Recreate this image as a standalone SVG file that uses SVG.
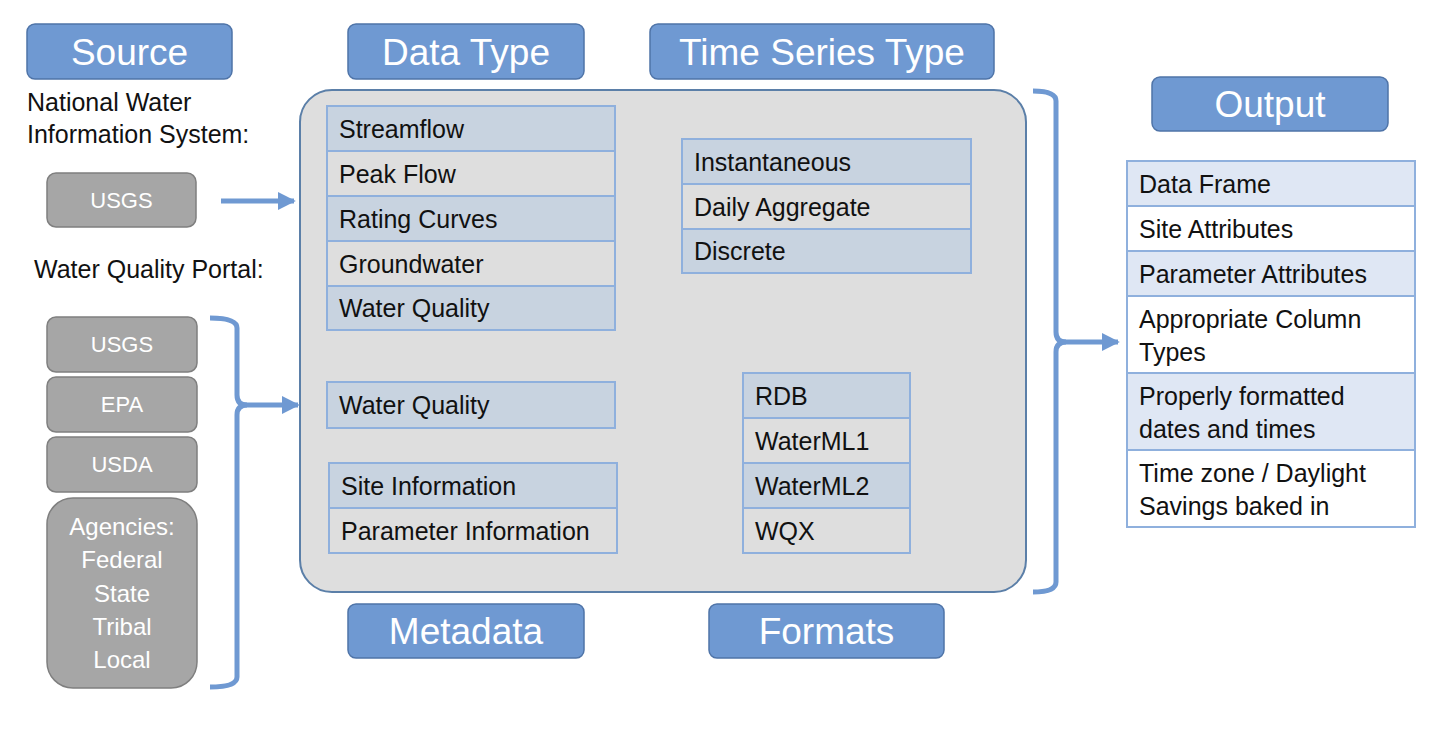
<svg xmlns="http://www.w3.org/2000/svg" width="1440" height="734" viewBox="0 0 1440 734">
<style>
text{font-family:"Liberation Sans",Arial,sans-serif;}
.hdr rect{fill:#6f99d2;stroke:#4f74a8;stroke-width:1.5;}
.hdr text{fill:#fff;font-size:37px;text-anchor:middle;}
.gray rect{fill:#a6a6a6;stroke:#7f7f7f;stroke-width:1.5;}
.gray text{fill:#fff;font-size:22px;text-anchor:middle;}
.gray text.big{font-size:24px;}
.lbl{fill:#111;font-size:25px;}
.cell{stroke:#8fb0dd;stroke-width:2;}
.c1{fill:#c8d3e0;}
.c2{fill:#dedede;}
.o1{fill:#dfe7f4;}
.o2{fill:#ffffff;}
.t{fill:#111;font-size:25px;}
.conn{fill:none;stroke:#6f99d2;stroke-width:5;}
</style>
<defs>
<marker id="ah" viewBox="0 0 10 10" refX="9" refY="5" markerWidth="3.6" markerHeight="3.6" orient="auto" markerUnits="strokeWidth">
<path d="M0,0 L10,5 L0,10 Z" fill="#6f99d2"/>
</marker>
</defs>
<rect width="1440" height="734" fill="#fff"/>

<g id="main-box">
<rect x="300" y="90" width="726" height="502" rx="32" fill="#dedede" stroke="#5b7fa8" stroke-width="2"/>
</g>

<g id="hdr-source" class="hdr"><rect x="27" y="24" width="205" height="55" rx="8"/><text x="129.5" y="65">Source</text></g>
<g id="hdr-datatype" class="hdr"><rect x="348" y="24" width="236" height="55" rx="8"/><text x="466" y="65">Data Type</text></g>
<g id="hdr-tstype" class="hdr"><rect x="650" y="24" width="344" height="55" rx="8"/><text x="822" y="65">Time Series Type</text></g>
<g id="hdr-output" class="hdr"><rect x="1152" y="77" width="236" height="54" rx="8"/><text x="1270" y="117">Output</text></g>
<g id="hdr-metadata" class="hdr"><rect x="348" y="604" width="236" height="54" rx="8"/><text x="466" y="644">Metadata</text></g>
<g id="hdr-formats" class="hdr"><rect x="709" y="604" width="235" height="54" rx="8"/><text x="826.5" y="644">Formats</text></g>

<g id="label-nwis"><text class="lbl" x="27" y="111">National Water</text><text class="lbl" x="27" y="143">Information System:</text></g>
<g id="label-wqp"><text class="lbl" x="34" y="278">Water Quality Portal:</text></g>

<g id="nwis-usgs" class="gray"><rect x="47" y="173" width="149" height="54" rx="9"/><text x="121.5" y="208">USGS</text></g>
<g id="wqp-usgs" class="gray"><rect x="47" y="317" width="150" height="55" rx="9"/><text x="122" y="352">USGS</text></g>
<g id="wqp-epa" class="gray"><rect x="47" y="377" width="150" height="55" rx="9"/><text x="122" y="412">EPA</text></g>
<g id="wqp-usda" class="gray"><rect x="47" y="437" width="150" height="55" rx="9"/><text x="122" y="472">USDA</text></g>
<g id="wqp-agencies" class="gray"><rect x="47" y="498" width="150" height="190" rx="26"/>
<text class="big" x="122" y="535">Agencies:</text><text class="big" x="122" y="568">Federal</text><text class="big" x="122" y="602">State</text><text class="big" x="122" y="635">Tribal</text><text class="big" x="122" y="668">Local</text></g>

<g id="datatype-table">
<rect class="cell c1" x="327" y="106" width="288" height="45"/><text class="t" x="339" y="138">Streamflow</text>
<rect class="cell c2" x="327" y="151" width="288" height="45"/><text class="t" x="339" y="183">Peak Flow</text>
<rect class="cell c1" x="327" y="196" width="288" height="45"/><text class="t" x="339" y="228">Rating Curves</text>
<rect class="cell c2" x="327" y="241" width="288" height="45"/><text class="t" x="339" y="273">Groundwater</text>
<rect class="cell c1" x="327" y="286" width="288" height="44"/><text class="t" x="339" y="317">Water Quality</text>
</g>

<g id="tstype-table">
<rect class="cell c1" x="682" y="139" width="289" height="45"/><text class="t" x="694" y="171">Instantaneous</text>
<rect class="cell c2" x="682" y="184" width="289" height="45"/><text class="t" x="694" y="216">Daily Aggregate</text>
<rect class="cell c1" x="682" y="229" width="289" height="44"/><text class="t" x="694" y="260">Discrete</text>
</g>

<g id="wq-table">
<rect class="cell c1" x="327" y="382" width="288" height="46"/><text class="t" x="339" y="414">Water Quality</text>
</g>

<g id="metadata-table">
<rect class="cell c1" x="329" y="463" width="288" height="45"/><text class="t" x="341" y="495">Site Information</text>
<rect class="cell c2" x="329" y="508" width="288" height="45"/><text class="t" x="341" y="540">Parameter Information</text>
</g>

<g id="formats-table">
<rect class="cell c1" x="743" y="373" width="167" height="45"/><text class="t" x="755" y="405">RDB</text>
<rect class="cell c2" x="743" y="418" width="167" height="45"/><text class="t" x="755" y="450">WaterML1</text>
<rect class="cell c1" x="743" y="463" width="167" height="45"/><text class="t" x="755" y="495">WaterML2</text>
<rect class="cell c2" x="743" y="508" width="167" height="45"/><text class="t" x="755" y="540">WQX</text>
</g>

<g id="output-table">
<rect class="cell o1" x="1127" y="161" width="288" height="45"/><text class="t" x="1139" y="193">Data Frame</text>
<rect class="cell o2" x="1127" y="206" width="288" height="45"/><text class="t" x="1139" y="238">Site Attributes</text>
<rect class="cell o1" x="1127" y="251" width="288" height="45"/><text class="t" x="1139" y="283">Parameter Attributes</text>
<rect class="cell o2" x="1127" y="296" width="288" height="77"/><text class="t" x="1139" y="328">Appropriate Column</text><text class="t" x="1139" y="361">Types</text>
<rect class="cell o1" x="1127" y="373" width="288" height="77"/><text class="t" x="1139" y="405">Properly formatted</text><text class="t" x="1139" y="438">dates and times</text>
<rect class="cell o2" x="1127" y="450" width="288" height="77"/><text class="t" x="1139" y="482">Time zone / Daylight</text><text class="t" x="1139" y="515">Savings baked in</text>
</g>

<g id="connectors">
<path class="conn" d="M221,201 H294" marker-end="url(#ah)"/>
<path class="conn" d="M210,318 Q237,318 237,328 V395 Q237,405 247,405 H298" marker-end="url(#ah)"/>
<path class="conn" d="M247,405 Q237,405 237,415 V677 Q237,687 210,687"/>
<path class="conn" d="M1033,91 Q1056,91 1056,101 V332 Q1056,342 1066,342 H1118" marker-end="url(#ah)"/>
<path class="conn" d="M1066,342 Q1056,342 1056,352 V582 Q1056,592 1033,592"/>
</g>
</svg>
